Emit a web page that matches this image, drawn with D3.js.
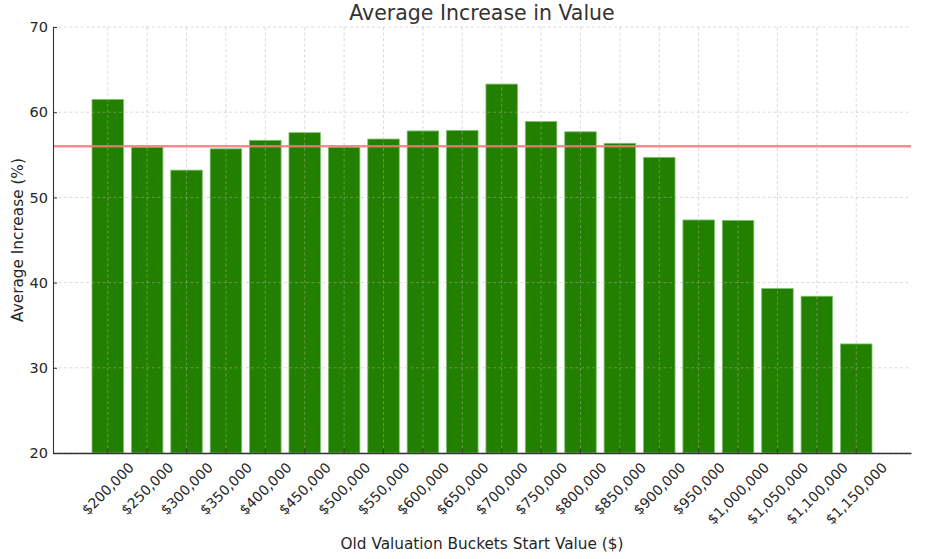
<!DOCTYPE html>
<html>
<head>
<meta charset="utf-8">
<script src="https://cdn.jsdelivr.net/npm/d3@7"></script>
<style>
  body { margin: 0; background: #fff; }
  svg { font-family: "DejaVu Sans", sans-serif; }
</style>
</head>
<body>
<div id="chart"></div>
<script>
// bucket start values and their average increase (%)
const buckets = ["$200,000", "$250,000", "$300,000", "$350,000", "$400,000", "$450,000",
  "$500,000", "$550,000", "$600,000", "$650,000", "$700,000", "$750,000", "$800,000",
  "$850,000", "$900,000", "$950,000", "$1,000,000", "$1,050,000", "$1,100,000", "$1,150,000"]
const avgIncrease = [61.5, 55.9, 53.2, 55.7, 56.7, 57.6, 55.9, 56.85, 57.8, 57.85,
  63.3, 58.9, 57.7, 56.35, 54.7, 47.35, 47.3, 39.3, 38.4, 32.8]
const overallAvg = 56.0
const yTicks = [20, 30, 40, 50, 60, 70]

const W = 927, H = 559
const plot = { left: 53, right: 911, top: 27, bottom: 453 }

const svg = d3.select('#chart').append('svg')
  .attr('width', W)
  .attr('height', H)

const x = d3.scaleBand()
  .domain(buckets)
  .range([plot.left, plot.right])
  .paddingInner(0.2)
  .paddingOuter(0.99)

const y = d3.scaleLinear()
  .domain([20, 70])
  .range([plot.bottom, plot.top])

// bars
svg.append('g')
  .selectAll('rect')
  .data(avgIncrease)
  .join('rect')
    .attr('x', (d, i) => x(buckets[i]))
    .attr('y', d => y(d))
    .attr('width', x.bandwidth())
    .attr('height', d => y(20) - y(d))
    .attr('fill', '#237f00')
    .attr('stroke', '#79c46a')
    .attr('stroke-width', 0.8)

// dashed grid on top of the bars
const grid = svg.append('g')
  .attr('stroke', '#b0b0b0')
  .attr('stroke-opacity', 0.6)
  .attr('stroke-width', 0.8)
  .attr('stroke-dasharray', '3,2.5')
grid.selectAll('.hg')
  .data(yTicks)
  .join('line')
    .attr('x1', plot.left).attr('x2', plot.right)
    .attr('y1', d => y(d)).attr('y2', d => y(d))
grid.selectAll('.vg')
  .data(buckets)
  .join('line')
    .attr('x1', d => x(d) + x.bandwidth() / 2)
    .attr('x2', d => x(d) + x.bandwidth() / 2)
    .attr('y1', plot.top).attr('y2', plot.bottom)

// overall average line
svg.append('line')
  .attr('x1', plot.left).attr('x2', plot.right)
  .attr('y1', y(overallAvg)).attr('y2', y(overallAvg))
  .attr('stroke', '#f07a7a')
  .attr('stroke-opacity', 0.85)
  .attr('stroke-width', 2.6)

// y axis, ticks pointing inwards
const yAxis = svg.append('g')
  .attr('transform', `translate(${plot.left},0)`)
  .call(d3.axisLeft(y).tickValues(yTicks).tickSize(-4).tickSizeOuter(0).tickPadding(5))
yAxis.select('.domain').attr('stroke', '#333').attr('stroke-width', 1.1)
yAxis.selectAll('.tick line').attr('stroke', '#333')
yAxis.selectAll('.tick text')
  .attr('x', -5)
  .attr('fill', '#262626')
  .style('font-size', '14.5px')
  .style('font-family', '"DejaVu Sans", sans-serif')

// x axis
const xAxis = svg.append('g')
  .attr('transform', `translate(0,${plot.bottom})`)
  .call(d3.axisBottom(x).tickSize(-4).tickSizeOuter(0))
xAxis.select('.domain').attr('stroke', '#333').attr('stroke-width', 1.4)
xAxis.selectAll('.tick line').attr('stroke', '#333')

// rotated labels, centred on the tick like matplotlib's ha='center'
const fs = 14
xAxis.selectAll('.tick text')
  .attr('fill', '#262626')
  .style('font-size', fs + 'px')
  .style('font-family', '"DejaVu Sans", sans-serif')
  .attr('dy', null)
  .attr('y', null)
  .attr('text-anchor', 'middle')
  .attr('dominant-baseline', 'central')
  .each(function () {
    const w = this.getComputedTextLength()
    const half = (w + fs) * Math.SQRT1_2 / 2
    d3.select(this).attr('transform', `translate(0,${7 + half}) rotate(-45)`)
  })

// titles
svg.append('text')
  .attr('x', (plot.left + plot.right) / 2)
  .attr('y', 20)
  .attr('text-anchor', 'middle')
  .attr('fill', '#333')
  .style('font-size', '20.5px')
  .text('Average Increase in Value')

svg.append('text')
  .attr('x', (plot.left + plot.right) / 2)
  .attr('y', 549)
  .attr('text-anchor', 'middle')
  .attr('fill', '#262626')
  .style('font-size', '15.3px')
  .text('Old Valuation Buckets Start Value ($)')

svg.append('text')
  .attr('transform', `translate(23,${(plot.top + plot.bottom) / 2}) rotate(-90)`)
  .attr('text-anchor', 'middle')
  .attr('fill', '#262626')
  .style('font-size', '15.3px')
  .text('Average Increase (%)')
</script>
</body>
</html>
